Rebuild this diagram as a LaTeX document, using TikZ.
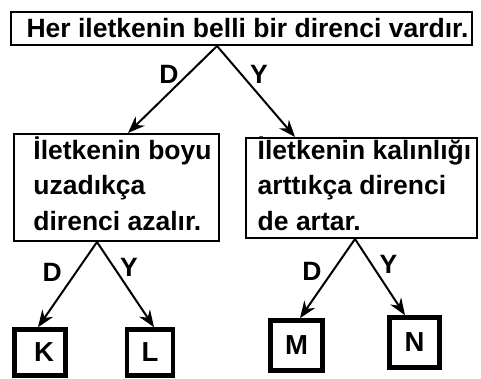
\documentclass[tikz,border=0pt]{standalone}
\usepackage{fontspec}
\setmainfont{Liberation Sans}
\usetikzlibrary{arrows.meta}

\tikzset{
    box/.style={rectangle, draw, line width=2pt, inner sep=0pt},
    txtbox/.style={box, align=left, font=\fontsize{26.5}{35.5}\selectfont\bfseries},
    leaf/.style={rectangle, draw, line width=4.5pt, inner sep=0pt, font=\fontsize{27.5}{32}\selectfont\bfseries},
    arr/.style={-{Stealth[length=17pt, width=13pt]}, line width=2pt},
    lbl/.style={font=\fontsize{26.5}{32}\selectfont\bfseries, inner sep=1pt}
}

\begin{document}
\begin{tikzpicture}[x=1pt, y=-1pt]
    \useasboundingbox (0,0) rectangle (481,379);

    \node[box, minimum width=461pt, minimum height=33pt, font=\fontsize{26.5}{32}\selectfont\bfseries] (root) at (241.5,28.5) {\hspace*{12pt}Her iletkenin belli bir direnci vardır.};

    \node[txtbox, minimum width=205pt, minimum height=107pt, text height=95pt, text depth=10pt] (boy) at (116.5,187.5) {\hspace*{12pt}İletkenin boyu\\\hspace*{12pt}uzadıkça\\\hspace*{12pt}direnci azalır.};
    \node[txtbox, minimum width=231pt, minimum height=100pt, text height=90pt, text depth=6pt] (kal) at (361.5,188) {\hspace*{6pt}İletkenin kalınlığı\\\hspace*{6pt}arttıkça direnci\\\hspace*{6pt}de artar.};

    \node[leaf, minimum width=51pt, minimum height=46pt] (K) at (40,352.5) {\hspace*{8pt}K};
    \node[leaf, minimum width=46pt, minimum height=46pt] (L) at (150,352.5) {L};
    \node[leaf, minimum width=52pt, minimum height=50pt] (M) at (296.5,345.5) {M};
    \node[leaf, minimum width=50pt, minimum height=50pt] (N) at (414.5,342.5) {N};

    \draw[arr] ([xshift=-24.5pt]root.south) -- ([xshift=11.5pt]boy.north) node[lbl, pos=0.33, left=7pt] {D};
    \draw[arr] ([xshift=-24.5pt]root.south) -- ([xshift=-66.5pt]kal.north) node[lbl, pos=0.31, right=7pt] {Y};

    \draw[arr] ([xshift=-19.5pt]boy.south) -- ([xshift=-2pt]K.north) node[lbl, pos=0.36, left=12pt] {D};
    \draw[arr] ([xshift=-19.5pt]boy.south) -- ([xshift=4pt]L.north) node[lbl, pos=0.30, right=4pt] {Y};

    \draw[arr] ([xshift=-6.5pt]kal.south) -- ([xshift=3.5pt]M.north) node[lbl, pos=0.41, left=9pt] {D};
    \draw[arr] ([xshift=-6.5pt]kal.south) -- ([xshift=-9.5pt]N.north) node[lbl, pos=0.33, right=6pt] {Y};
\end{tikzpicture}
\end{document}
